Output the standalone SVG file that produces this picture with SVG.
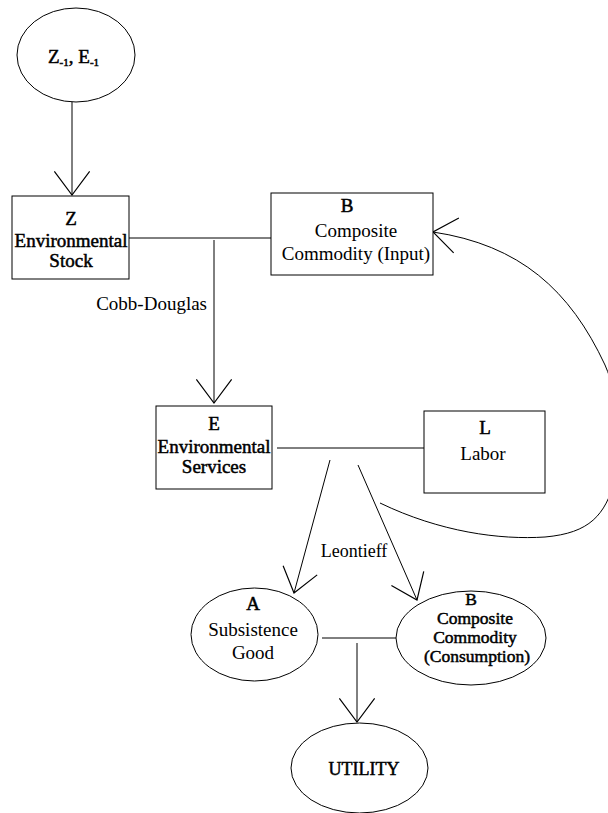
<svg xmlns="http://www.w3.org/2000/svg" width="608" height="813" viewBox="0 0 608 813">
<style>
.shape{fill:#fff;stroke:#000;stroke-width:1}
.ln{fill:none;stroke:#000;stroke-width:1}
.t{font-family:"Liberation Serif","Times New Roman",serif;font-size:19px;fill:#000;text-anchor:middle}
.b{stroke:#000;stroke-width:0.5px}
.s{font-size:17.5px}
</style>
<defs>
<marker id="arr" markerUnits="userSpaceOnUse" markerWidth="30" markerHeight="40" viewBox="-22 -17 24 34" refX="0" refY="0" orient="auto">
<path d="M-20,-15 L0,0 L-20,15" fill="none" stroke="#000" stroke-width="1"/>
</marker>
</defs>
<rect width="608" height="813" fill="#fff"/>
<g id="connectors">
<line class="ln" x1="72" y1="102" x2="72" y2="195" marker-end="url(#arr)"/>
<line class="ln" x1="129" y1="238" x2="271" y2="238"/>
<line class="ln" x1="214" y1="240" x2="214" y2="403" marker-end="url(#arr)"/>
<line class="ln" x1="277" y1="448" x2="424" y2="448"/>
<line class="ln" x1="330" y1="460" x2="294" y2="593" marker-end="url(#arr)"/>
<line class="ln" x1="358" y1="465" x2="417" y2="600" marker-end="url(#arr)"/>
<path class="ln" d="M380,503 C440,532 500,540 545,537 C590,533 605,515 615,480 C625,440 620,400 605,365 C570,290 520,245 433,232" marker-end="url(#arr)"/>
<line class="ln" x1="322" y1="638" x2="397" y2="638"/>
<line class="ln" x1="357" y1="643" x2="357" y2="722" marker-end="url(#arr)"/>
<text class="t" x="207" y="310" style="text-anchor:end">Cobb-Douglas</text>
<text class="t" x="354" y="557" style="font-size:18px">Leontieff</text>
</g>
<g id="node-prev">
<ellipse class="shape" cx="76" cy="55" rx="59" ry="47"/>
<text class="t b" x="48" y="63" style="text-anchor:start">Z<tspan font-size="11" dy="3">-1</tspan><tspan dy="-3">, E</tspan><tspan font-size="11" dy="3">-1</tspan></text>
</g>
<g id="node-Z">
<rect class="shape" x="12" y="196" width="117" height="83"/>
<text class="t b" x="71" y="225">Z</text>
<text class="t b" x="71" y="247">Environmental</text>
<text class="t b" x="71" y="267">Stock</text>
</g>
<g id="node-B-input">
<rect class="shape" x="271" y="193" width="162" height="82"/>
<text class="t b" x="347" y="212">B</text>
<text class="t" x="356" y="237">Composite</text>
<text class="t" x="356" y="260">Commodity (Input)</text>
</g>
<g id="node-E">
<rect class="shape" x="156" y="406" width="116" height="83"/>
<text class="t b" x="214" y="430">E</text>
<text class="t b" x="214" y="453">Environmental</text>
<text class="t b" x="214" y="473">Services</text>
</g>
<g id="node-L">
<rect class="shape" x="424" y="411" width="121" height="82"/>
<text class="t b" x="485" y="434">L</text>
<text class="t" x="483" y="460">Labor</text>
</g>
<g id="node-A">
<ellipse class="shape" cx="254.5" cy="634.5" rx="63.5" ry="46.5"/>
<text class="t b" x="253" y="610">A</text>
<text class="t" x="253" y="636">Subsistence</text>
<text class="t" x="253" y="659">Good</text>
</g>
<g id="node-B-consumption">
<ellipse class="shape" cx="471" cy="638" rx="75" ry="47"/>
<text class="t b s" x="471" y="605">B</text>
<text class="t b s" x="475" y="624">Composite</text>
<text class="t b s" x="475" y="643">Commodity</text>
<text class="t b s" x="477" y="662">(Consumption)</text>
</g>
<g id="node-utility">
<ellipse class="shape" cx="359.5" cy="768" rx="68.5" ry="45"/>
<text class="t b" x="364" y="775" style="font-size:18px">UTILITY</text>
</g>
</svg>
